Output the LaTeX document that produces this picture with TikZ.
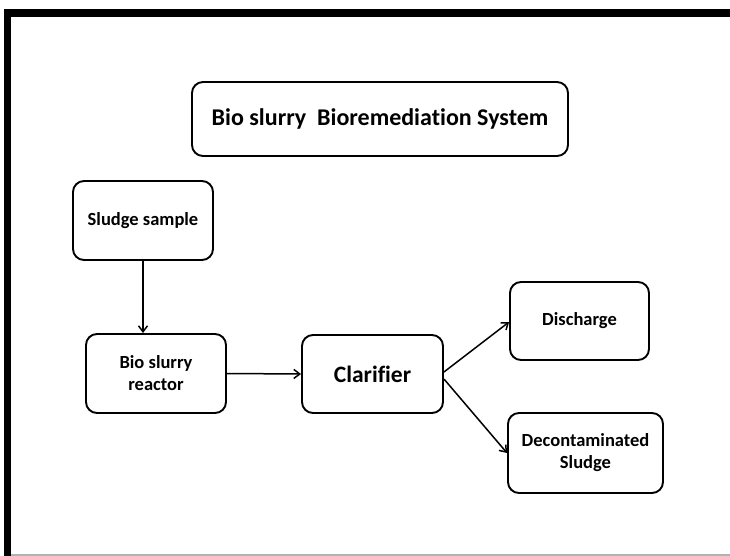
\documentclass[tikz,border=0pt]{standalone}
\usepackage{fontspec}
\setmainfont[Ligatures=NoCommon]{Carlito}
\usetikzlibrary{arrows.meta}
\tikzset{
  box/.style={draw=black, line width=1.9pt, rounded corners=11pt, align=center, font=\fontsize{18.5}{22}\selectfont\bfseries, inner sep=0pt},
  conn/.style={draw=black, line width=1.5pt, -{Straight Barb[length=6pt,width=9pt,line width=1.5pt]}}
}
\begin{document}
\begin{tikzpicture}[x=1pt,y=-1pt]
\useasboundingbox (0,0) rectangle (730,556);
% frame
\fill[black] (4,9) rectangle (730,17);
\fill[black] (4,9) rectangle (11,556);
\draw[gray!60, line width=1.2pt] (11,555) -- (730,555);
% nodes
\node[box, minimum width=376pt, minimum height=74pt, font=\fontsize{24}{28}\selectfont\bfseries] (title) at (380,119) {Bio slurry\ \ Bioremediation System};
\node[box, minimum width=140pt, minimum height=79pt] (sludge) at (143,220.5) {Sludge sample};
\node[box, minimum width=140pt, minimum height=79pt] (reactor) at (156,373.5) {Bio slurry\\reactor};
\node[box, minimum width=141pt, minimum height=78pt, font=\fontsize{23.5}{27}\selectfont\bfseries] (clar) at (372.5,374) {Clarifier};
\node[box, minimum width=139pt, minimum height=78pt] (dis) at (579.5,321) {Discharge};
\node[box, minimum width=155pt, minimum height=80pt] (decon) at (585.5,453) {Decontaminated\\Sludge};
% connectors
\draw[conn] (sludge.south) -- (sludge.south |- reactor.north);
\draw[conn] (reactor.east) -- (clar.west);
\draw[conn] ([yshift=2pt]clar.east) -- ([yshift=-1pt]dis.west);
\draw[conn] ([yshift=-5pt]clar.east) -- (decon.west);
\end{tikzpicture}
\end{document}
